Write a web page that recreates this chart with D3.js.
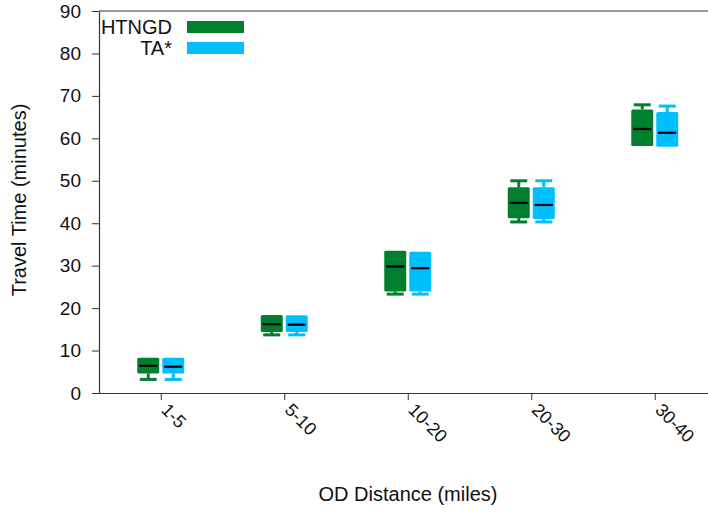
<!DOCTYPE html>
<html><head><meta charset="utf-8">
<script src="https://cdn.jsdelivr.net/npm/d3@7"></script>
<style>body{margin:0;background:#fff}svg{display:block}text{font-family:"Liberation Sans",Arial,sans-serif}</style>
</head><body><svg id="c" width="708" height="513"></svg>
<script>
const categories = ["1-5","5-10","10-20","20-30","30-40"];
const seriesNames = ["HTNGD","TA*"];
// [min, q1, median, q3, max]
const htngd = [[3.2,4.6,6.4,8.3,8.3],[13.7,14.4,16.2,18.4,18.4],[23.3,23.9,29.8,33.5,33.5],[40.3,41.2,44.8,48.5,50.0],[58.2,58.2,62.2,66.8,67.9]];
const tastar = [[3.2,4.6,6.2,8.3,8.3],[13.7,14.4,16.1,18.3,18.3],[23.3,23.9,29.4,33.3,33.3],[40.3,41.0,44.3,48.5,50.0],[58.0,58.0,61.3,66.2,67.6]];
const yTicks = [0,10,20,30,40,50,60,70,80,90];
const colors = ["#007f2f","#00bfff"];

const svg = d3.select("#c");
const mLeft=99, mRight=716.5, mTop=11, mBottom=393;
const x = d3.scalePoint().domain(categories).range([mLeft,mRight]).padding(0.5);
const y = d3.scaleLinear().domain([0,90]).range([mBottom,mTop]);
const boxW=22, gap=3, capW=17;

svg.append("line").attr("x1",mLeft).attr("x2",mRight).attr("y1",mTop).attr("y2",mTop).attr("stroke","#333").attr("stroke-width",1.2);

const yAxis = svg.append("g").attr("transform",`translate(${mLeft},0)`)
  .call(d3.axisLeft(y).tickValues(yTicks).tickSize(7).tickSizeOuter(0).tickPadding(11));
yAxis.select(".domain").attr("stroke","#333").attr("stroke-width",1.2);
yAxis.selectAll(".tick line").attr("stroke","#333");
yAxis.selectAll("text").attr("font-size",19).attr("fill","#111");

const xAxis = svg.append("g").attr("transform",`translate(0,${mBottom})`)
  .call(d3.axisBottom(x).tickSize(7).tickSizeOuter(0));
xAxis.select(".domain").attr("stroke","#333").attr("stroke-width",1.2);
xAxis.selectAll(".tick line").attr("stroke","#333");
xAxis.selectAll("text").attr("font-size",18).attr("fill","#111")
  .attr("text-anchor","start").attr("dy",null).attr("y",0).attr("x",0)
  .attr("transform","translate(-1,18) rotate(45)");

[htngd,tastar].forEach((ser,si)=>{
  const g = svg.append("g");
  ser.forEach((d,i)=>{
    const cx = x(categories[i]) + (si===0 ? -(gap/2+boxW/2) : (gap/2+boxW/2));
    const c = colors[si];
    const [mn,q1,md,q3,mx]=d;
    if (mn<q1){
      g.append("line").attr("x1",cx).attr("x2",cx).attr("y1",y(q1)).attr("y2",y(mn)).attr("stroke",c).attr("stroke-width",3);
      g.append("rect").attr("x",cx-capW/2).attr("width",capW).attr("y",y(mn)-1.5).attr("height",3).attr("fill",c);
    }
    if (mx>q3){
      g.append("line").attr("x1",cx).attr("x2",cx).attr("y1",y(q3)).attr("y2",y(mx)).attr("stroke",c).attr("stroke-width",3);
      g.append("rect").attr("x",cx-capW/2).attr("width",capW).attr("y",y(mx)-1.5).attr("height",3).attr("fill",c);
    }
    g.append("rect").attr("x",cx-boxW/2).attr("width",boxW).attr("y",y(q3)).attr("height",y(q1)-y(q3))
      .attr("rx",1.5).attr("fill",c);
    g.append("line").attr("x1",cx-boxW/2+2).attr("x2",cx+boxW/2-2).attr("y1",y(md)).attr("y2",y(md))
      .attr("stroke","#000").attr("stroke-width",2.2);
  });
});

const leg = svg.append("g");
seriesNames.forEach((n,i)=>{
  const ly = 27 + i*21;
  leg.append("text").attr("x",172).attr("y",ly+7).attr("text-anchor","end").attr("font-size",20).attr("fill","#111").text(n);
  leg.append("rect").attr("x",187).attr("y",ly-6).attr("width",57).attr("height",12).attr("fill",colors[i]);
});

svg.append("text").attr("transform","translate(26,200) rotate(-90)").attr("text-anchor","middle").attr("font-size",20).attr("fill","#111").text("Travel Time (minutes)");
svg.append("text").attr("x",408).attr("y",501).attr("text-anchor","middle").attr("font-size",20).attr("fill","#111").text("OD Distance (miles)");
</script></body></html>
